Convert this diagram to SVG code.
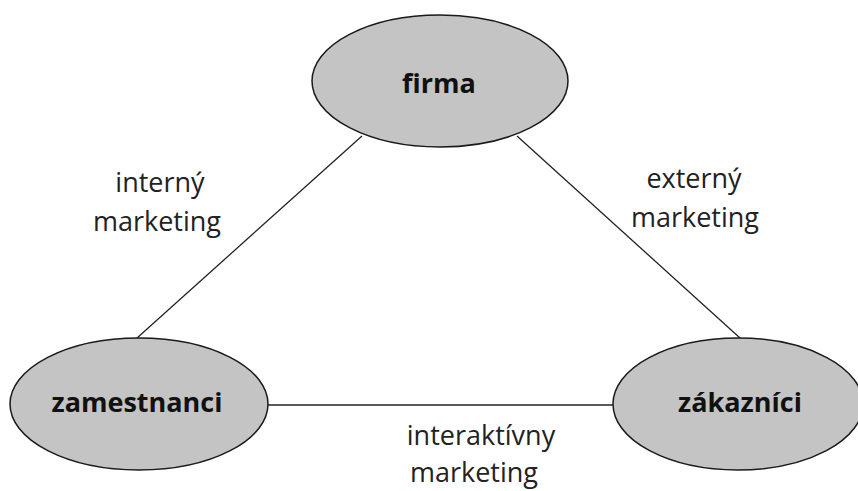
<svg xmlns="http://www.w3.org/2000/svg" width="858" height="491" viewBox="0 0 858 491">
<style>
.node{fill:#c4c4c4;stroke:#1a1a1a;stroke-width:1.5}
.nl{font-family:"Open Sans","DejaVu Sans",sans-serif;font-weight:bold;font-size:27px;fill:#111;text-anchor:middle}
.el{font-family:"Open Sans","DejaVu Sans",sans-serif;font-size:27px;fill:#222;text-anchor:middle}
.edge{stroke:#222;stroke-width:1.3;fill:none}
</style>
<rect width="858" height="491" fill="#fff"/>
<g id="connectors">
<line class="edge" x1="362" y1="136" x2="137" y2="338"/>
<line class="edge" x1="517" y1="136" x2="740" y2="338"/>
<line class="edge" x1="268" y1="405" x2="614" y2="405"/>
</g>
<g id="labels">
<text class="el" x="160" y="192">interný</text>
<text class="el" x="157" y="231">marketing</text>
<text class="el" x="694" y="188">externý</text>
<text class="el" x="695" y="227">marketing</text>
<text class="el" x="481" y="445">interaktívny</text>
<text class="el" x="474" y="482">marketing</text>
</g>
<g id="firma">
<ellipse class="node" cx="440" cy="81" rx="128" ry="66"/>
<text class="nl" x="439" y="93">firma</text>
</g>
<g id="zamestnanci">
<ellipse class="node" cx="139" cy="404" rx="129" ry="66"/>
<text class="nl" x="137" y="412">zamestnanci</text>
</g>
<g id="zakaznici">
<ellipse class="node" cx="738" cy="404" rx="125" ry="66"/>
<text class="nl" x="740" y="412">zákazníci</text>
</g>
</svg>
